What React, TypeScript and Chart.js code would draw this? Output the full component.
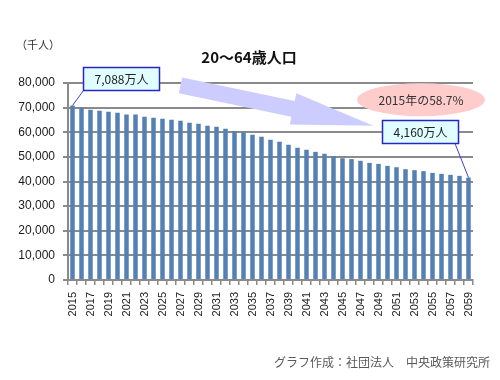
import React, { useEffect, useRef } from 'react';
import { Chart, registerables } from 'chart.js';

Chart.register(...registerables);

const years = [
  '2015', '2016', '2017', '2018', '2019', '2020', '2021', '2022', '2023', '2024',
  '2025', '2026', '2027', '2028', '2029', '2030', '2031', '2032', '2033', '2034',
  '2035', '2036', '2037', '2038', '2039', '2040', '2041', '2042', '2043', '2044',
  '2045', '2046', '2047', '2048', '2049', '2050', '2051', '2052', '2053', '2054',
  '2055', '2056', '2057', '2058', '2059',
];

const population = [
  70880, 70100, 69150, 68750, 68350, 67950, 67250, 67200, 66300, 65900,
  65500, 65100, 64700, 63900, 63500, 62650, 62250, 61450, 60500, 59950,
  59000, 58150, 56950, 56150, 54900, 53700, 52900, 52050, 51250, 50300,
  49450, 49100, 48400, 47550, 47150, 46350, 45800, 45000, 44600, 44200,
  43500, 43100, 42700, 42300, 41600,
];

const yMin = 0;
const yMax = 80000;
const yStep = 10000;

const titleText = '20～64歳人口';
const unitText = '（千人）';
const startLabel = '7,088万人';
const endLabel = '4,160万人';
const ratioLabel = '2015年の58.7%';
const sourceText = 'グラフ作成：社団法人　中央政策研究所';

const JP = '"Noto Sans CJK JP", "Noto Sans", sans-serif';
const GRID = '#8a8a8a';

const annotationPlugin = {
  id: 'annotations',
  afterDraw(chart: any) {
    const ctx: CanvasRenderingContext2D = chart.ctx;
    const meta = chart.getDatasetMeta(0);
    const first = meta.data[0];
    const last = meta.data[meta.data.length - 1];
    ctx.save();

    // big arrow
    const sx = 180.5, sy = 85.3, tx = 373.3, ty = 125.7;
    const dx = tx - sx, dy = ty - sy;
    const len = Math.sqrt(dx * dx + dy * dy);
    const ux = dx / len, uy = dy / len;
    const px = -uy, py = ux;
    const shaftHalf = 8, headHalf = 16, headLen = 82;
    const bx = tx - ux * headLen, by = ty - uy * headLen;
    ctx.beginPath();
    ctx.moveTo(sx + px * shaftHalf, sy + py * shaftHalf);
    ctx.lineTo(bx + px * shaftHalf, by + py * shaftHalf);
    ctx.lineTo(bx + px * headHalf, by + py * headHalf);
    ctx.lineTo(tx, ty);
    ctx.lineTo(bx - px * headHalf, by - py * headHalf);
    ctx.lineTo(bx - px * shaftHalf, by - py * shaftHalf);
    ctx.lineTo(sx - px * shaftHalf, sy - py * shaftHalf);
    ctx.closePath();
    ctx.fillStyle = '#ccccff';
    ctx.fill();

    // pink ellipse
    ctx.beginPath();
    ctx.ellipse(421, 99.7, 64, 16.5, 0, 0, Math.PI * 2);
    ctx.fillStyle = '#ffcccc';
    ctx.fill();
    ctx.fillStyle = '#333333';
    ctx.font = `12px ${JP}`;
    ctx.textAlign = 'center';
    ctx.textBaseline = 'middle';
    ctx.fillText(ratioLabel, 421, 100);

    // callouts
    const drawBox = (x: number, y: number, w: number, h: number, text: string) => {
      ctx.fillStyle = '#e0feff';
      ctx.fillRect(x, y, w, h);
      ctx.strokeStyle = '#2626c8';
      ctx.lineWidth = 1.5;
      ctx.strokeRect(x, y, w, h);
      ctx.fillStyle = '#222222';
      ctx.font = `12px ${JP}`;
      ctx.textAlign = 'center';
      ctx.textBaseline = 'middle';
      ctx.fillText(text, x + w / 2, y + h / 2 + 0.5);
    };

    ctx.strokeStyle = '#4040d0';
    ctx.lineWidth = 1;
    ctx.beginPath();
    ctx.moveTo(83.5, 90.5);
    ctx.lineTo(first.x, first.y);
    ctx.stroke();
    drawBox(83.5, 67.5, 76, 23, startLabel);

    ctx.strokeStyle = '#4040d0';
    ctx.lineWidth = 1;
    ctx.beginPath();
    ctx.moveTo(455, 143.5);
    ctx.lineTo(last.x, last.y);
    ctx.stroke();
    drawBox(382.5, 120.5, 76, 23, endLabel);

    // texts
    ctx.fillStyle = '#111111';
    ctx.font = `bold 15px ${JP}`;
    ctx.textAlign = 'center';
    ctx.textBaseline = 'middle';
    ctx.fillText(titleText, 249, 57);

    ctx.fillStyle = '#333333';
    ctx.font = `11px ${JP}`;
    ctx.textAlign = 'left';
    ctx.fillText(unitText, 16, 45);

    ctx.fillStyle = '#595959';
    ctx.font = `12px ${JP}`;
    ctx.textAlign = 'right';
    ctx.fillText(sourceText, 490, 362);

    ctx.restore();
  },
};

export default function App() {
  const ref = useRef<HTMLCanvasElement | null>(null);

  useEffect(() => {
    if (!ref.current) return;
    const chart = new Chart(ref.current, {
      type: 'bar',
      data: {
        labels: years,
        datasets: [
          {
            data: population,
            backgroundColor: '#5480b4',
            borderWidth: 0,
            categoryPercentage: 1,
            barPercentage: 0.5,
          },
        ],
      },
      options: {
        responsive: false,
        animation: false,
        layout: { padding: { left: 0, right: 27, top: 83, bottom: 0 } },
        plugins: {
          legend: { display: false },
          tooltip: { enabled: false },
          title: { display: false },
        },
        scales: {
          x: {
            offset: true,
            grid: {
              offset: true,
              drawOnChartArea: false,
              drawTicks: true,
              tickLength: 5,
              color: GRID,
              lineWidth: 1.5,
            },
            border: { display: true, color: GRID, width: 2 },
            ticks: {
              autoSkip: false,
              minRotation: 90,
              maxRotation: 90,
              padding: 7,
              color: '#222222',
              font: { family: '"Liberation Sans", Arial, sans-serif', size: 11 },
              callback: (_v: any, i: number) => (i % 2 === 0 ? years[i] : ''),
            },
            afterFit: (scale: any) => {
              scale.height = 100;
            },
          },
          y: {
            min: yMin,
            max: yMax,
            grid: {
              color: GRID,
              lineWidth: 2,
              tickLength: 5,
            },
            border: { display: true, color: GRID, width: 2 },
            ticks: {
              stepSize: yStep,
              padding: 8,
              color: '#1a1a1a',
              font: { family: '"Liberation Sans", Arial, sans-serif', size: 12 },
              callback: (v: any) => Number(v).toLocaleString('en-US'),
            },
            afterFit: (scale: any) => {
              scale.width = 68;
            },
          },
        },
      },
      plugins: [annotationPlugin],
    });
    return () => chart.destroy();
  }, []);

  return (
    <div style={{ position: 'absolute', left: 0, top: 0, width: 500, height: 380, background: '#ffffff' }}>
      <canvas ref={ref} width={500} height={380} />
    </div>
  );
}
